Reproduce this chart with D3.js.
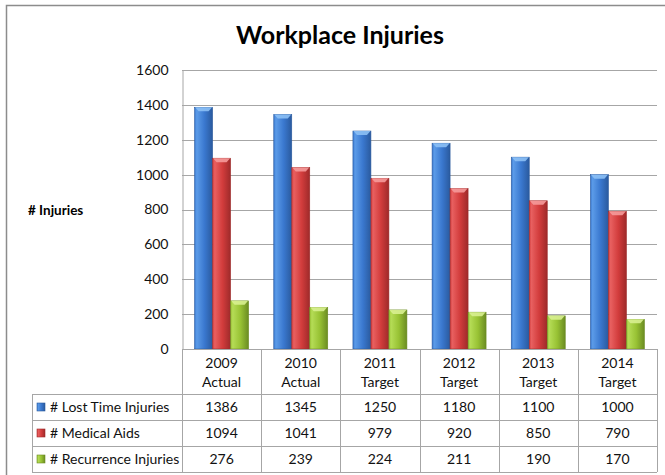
<!DOCTYPE html>
<html>
<head>
<meta charset="utf-8">
<script src="https://cdn.jsdelivr.net/npm/d3@7"></script>
<style>
  body { margin: 0; background: #fff; }
  svg { display: block; font-family: Lato, "Open Sans", sans-serif; }
</style>
</head>
<body>
<div id="chart"></div>
<script>
// Chart data
var categories = ['2009 Actual', '2010 Actual', '2011 Target', '2012 Target', '2013 Target', '2014 Target'];
var seriesNames = ['# Lost Time Injuries', '# Medical Aids', '# Recurrence Injuries'];
var lostTime = [1386, 1345, 1250, 1180, 1100, 1000];
var medicalAids = [1094, 1041, 979, 920, 850, 790];
var recurrence = [276, 239, 224, 211, 190, 170];
var yTicks = [0, 200, 400, 600, 800, 1000, 1200, 1400, 1600];

var seriesValues = [lostTime, medicalAids, recurrence];
var seriesColors = [
  { light: '#5b9be8', mid: '#3a78cf', dark: '#2a5a9e', cap: '#8cc0f5' },
  { light: '#e86060', mid: '#d23c3c', dark: '#9e2a2a', cap: '#f59a9a' },
  { light: '#b5dc56', mid: '#98c234', dark: '#6b8c22', cap: '#d8f090' }
];

var width = 665;
var height = 475;
var plot = { left: 182, right: 657, top: 70, bottom: 349 };
var table = { left: 32, headerH: 45, rowH: 26 };

var svg = d3.select('#chart')
            .append('svg')
            .attr('width', width)
            .attr('height', height);

// Gradients for the bevelled bars
var defs = svg.append('defs');
seriesColors.forEach(function (c, i) {
  var grad = defs.append('linearGradient')
                 .attr('id', 'bar-grad-' + i)
                 .attr('x1', '0').attr('x2', '1').attr('y1', '0').attr('y2', '0');
  grad.append('stop').attr('offset', '0%').attr('stop-color', c.mid);
  grad.append('stop').attr('offset', '12%').attr('stop-color', c.light);
  grad.append('stop').attr('offset', '55%').attr('stop-color', c.mid);
  grad.append('stop').attr('offset', '100%').attr('stop-color', c.dark);
});

// Outer chart border
svg.append('path')
   .attr('d', 'M6.5,' + height + 'V5.5H' + width)
   .attr('fill', 'none')
   .attr('stroke', '#8c8c8c')
   .attr('stroke-width', 1.5);

// Title
svg.append('text')
   .attr('x', 340)
   .attr('y', 44)
   .attr('text-anchor', 'middle')
   .attr('font-size', 25)
   .attr('font-weight', 'bold')
   .attr('fill', '#000')
   .text('Workplace Injuries');

// Scales
var x = d3.scaleBand()
          .domain(categories)
          .range([plot.left, plot.right]);

var xInner = d3.scaleBand()
               .domain(d3.range(seriesNames.length))
               .range([0, x.bandwidth()])
               .paddingInner(0)
               .paddingOuter(0.7);

var y = d3.scaleLinear()
          .domain([0, 1600])
          .range([plot.bottom, plot.top]);

// Grid lines
svg.append('g')
   .attr('class', 'grid')
   .selectAll('line')
   .data(yTicks.filter(function (d) { return d > 0; }))
   .enter()
   .append('line')
   .attr('x1', plot.left)
   .attr('x2', plot.right)
   .attr('y1', function (d) { return Math.round(y(d)) + 0.5; })
   .attr('y2', function (d) { return Math.round(y(d)) + 0.5; })
   .attr('stroke', '#a6a6a6');

// Y axis
var yAxis = svg.append('g')
               .attr('transform', 'translate(' + (plot.left + 0.5) + ',0)')
               .call(d3.axisLeft(y)
                       .tickValues(yTicks)
                       .tickFormat(d3.format('d'))
                       .tickSize(0)
                       .tickPadding(14));
yAxis.select('.domain').attr('stroke', '#a6a6a6');
yAxis.selectAll('text')
     .attr('font-size', 14)
     .attr('font-family', 'Lato, sans-serif')
     .attr('fill', '#111');

svg.append('text')
   .attr('x', 28)
   .attr('y', 215)
   .attr('font-size', 13.5)
   .attr('font-weight', 'bold')
   .attr('fill', '#000')
   .text('# Injuries');

// Bars
var groups = svg.append('g')
                .attr('class', 'bars')
                .selectAll('g')
                .data(categories)
                .enter()
                .append('g')
                .attr('transform', function (d) { return 'translate(' + x(d) + ',0)'; });

groups.each(function (cat, ci) {
  var g = d3.select(this);
  seriesValues.forEach(function (vals, si) {
    var bx = xInner(si);
    var bw = xInner.bandwidth();
    var top = y(vals[ci]);
    var c = seriesColors[si];
    g.append('rect')
     .attr('x', bx)
     .attr('y', top)
     .attr('width', bw)
     .attr('height', plot.bottom - top)
     .attr('fill', 'url(#bar-grad-' + si + ')')
     .attr('stroke', c.dark)
     .attr('stroke-width', 0.6);
    // bevelled top cap
    g.append('path')
     .attr('d', 'M' + (bx + 0.5) + ',' + top +
                'L' + (bx + bw - 0.5) + ',' + top +
                'L' + (bx + bw - 4) + ',' + (top + 4) +
                'L' + (bx + 4) + ',' + (top + 4) + 'Z')
     .attr('fill', c.cap)
     .attr('opacity', 0.9);
  });
});

// Data table
var rows = seriesNames.length;
var tableBottom = plot.bottom + table.headerH + rows * table.rowH;
var tg = svg.append('g').attr('class', 'table');
var lineColor = '#a6a6a6';

// Column lines
x.domain().forEach(function (d) {
  tg.append('line')
    .attr('x1', Math.round(x(d)) + 0.5).attr('x2', Math.round(x(d)) + 0.5)
    .attr('y1', plot.bottom).attr('y2', tableBottom)
    .attr('stroke', lineColor);
});
tg.append('line')
  .attr('x1', plot.right + 0.5).attr('x2', plot.right + 0.5)
  .attr('y1', plot.bottom).attr('y2', tableBottom)
  .attr('stroke', lineColor);
tg.append('line')
  .attr('x1', table.left + 0.5).attr('x2', table.left + 0.5)
  .attr('y1', plot.bottom + table.headerH).attr('y2', tableBottom)
  .attr('stroke', lineColor);

// Horizontal lines
tg.append('line')
  .attr('x1', plot.left).attr('x2', plot.right)
  .attr('y1', plot.bottom + 0.5).attr('y2', plot.bottom + 0.5)
  .attr('stroke', lineColor);
d3.range(rows + 1).forEach(function (r) {
  var ly = plot.bottom + table.headerH + r * table.rowH + 0.5;
  tg.append('line')
    .attr('x1', table.left).attr('x2', plot.right)
    .attr('y1', ly).attr('y2', ly)
    .attr('stroke', lineColor);
});

// Category headers
categories.forEach(function (d) {
  var parts = d.split(' ');
  var t = tg.append('text')
            .attr('text-anchor', 'middle')
            .attr('font-size', 14)
            .attr('fill', '#111');
  parts.forEach(function (p, i) {
    t.append('tspan')
     .attr('x', x(d) + x.bandwidth() / 2)
     .attr('y', plot.bottom + 19 + i * 19)
     .text(p);
  });
});

// Series rows
seriesNames.forEach(function (name, si) {
  var rowTop = plot.bottom + table.headerH + si * table.rowH;
  var c = seriesColors[si];
  tg.append('rect')
    .attr('x', 37)
    .attr('y', rowTop + 9)
    .attr('width', 8)
    .attr('height', 8)
    .attr('fill', 'url(#bar-grad-' + si + ')')
    .attr('stroke', c.dark)
    .attr('stroke-width', 0.6);
  tg.append('text')
    .attr('x', 50)
    .attr('y', rowTop + 18)
    .attr('font-size', 14)
    .attr('fill', '#111')
    .text(name);
  seriesValues[si].forEach(function (v, ci) {
    tg.append('text')
      .attr('x', x(categories[ci]) + x.bandwidth() / 2)
      .attr('y', rowTop + 18)
      .attr('text-anchor', 'middle')
      .attr('font-size', 14)
      .attr('fill', '#111')
      .text(v);
  });
});
</script>
</body>
</html>
